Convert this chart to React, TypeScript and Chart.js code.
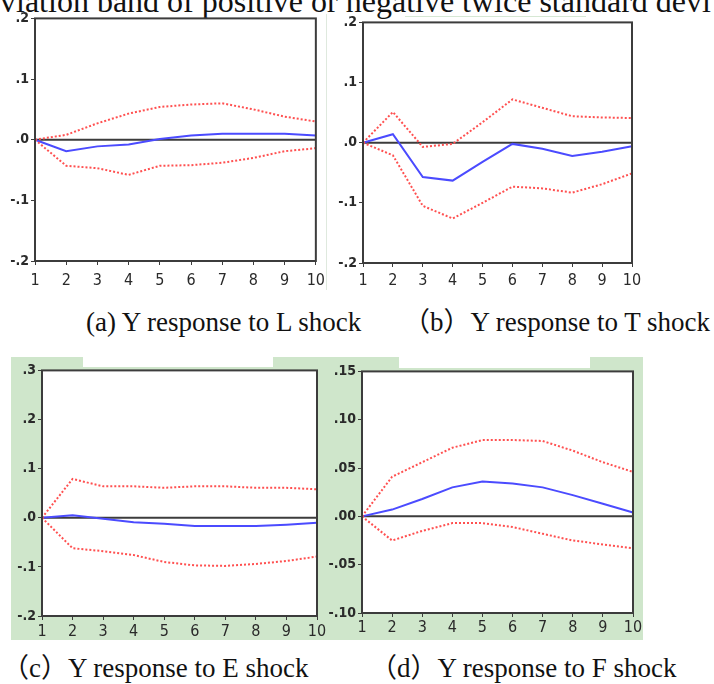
import React, { useEffect, useRef } from 'react';
import { Chart, registerables } from 'chart.js';

Chart.register(...registerables);

// ---------- data ----------
const periods = ['1', '2', '3', '4', '5', '6', '7', '8', '9', '10'];

// (a) Y response to L shock
const respL = [0, -0.019, -0.011, -0.008, 0.001, 0.007, 0.01, 0.01, 0.01, 0.007];
const upperL = [0, 0.008, 0.027, 0.043, 0.054, 0.058, 0.06, 0.05, 0.038, 0.03];
const lowerL = [0, -0.043, -0.047, -0.058, -0.043, -0.042, -0.038, -0.03, -0.019, -0.014];

// (b) Y response to T shock
const respT = [0, 0.014, -0.057, -0.063, -0.032, -0.002, -0.01, -0.022, -0.015, -0.006];
const upperT = [0, 0.051, -0.007, -0.002, 0.034, 0.072, 0.058, 0.044, 0.042, 0.041];
const lowerT = [0, -0.021, -0.105, -0.126, -0.1, -0.073, -0.076, -0.083, -0.069, -0.051];

// (c) Y response to E shock
const respE = [0, 0.005, -0.002, -0.009, -0.012, -0.017, -0.017, -0.017, -0.014, -0.01];
const upperE = [0, 0.079, 0.064, 0.064, 0.061, 0.064, 0.064, 0.061, 0.061, 0.058];
const lowerE = [0, -0.062, -0.068, -0.076, -0.09, -0.097, -0.098, -0.094, -0.088, -0.079];

// (d) Y response to F shock
const respF = [0, 0.007, 0.018, 0.03, 0.036, 0.034, 0.03, 0.022, 0.013, 0.004];
const upperF = [0, 0.041, 0.056, 0.071, 0.079, 0.079, 0.078, 0.068, 0.056, 0.046];
const lowerF = [0, -0.025, -0.015, -0.007, -0.007, -0.011, -0.018, -0.025, -0.029, -0.033];

// y tick values
const yTicksAB = [0.2, 0.1, 0, -0.1, -0.2];
const yTicksC = [0.3, 0.2, 0.1, 0, -0.1, -0.2];
const yTicksD = [0.15, 0.1, 0.05, 0, -0.05, -0.1];

const captionA = '(a) Y response to L shock';
const captionB = '（b）Y response to T shock';
const captionC = '（c）Y response to E shock';
const captionD = '（d）Y response to F shock';
const topText = 'viation band of positive or negative twice standard devi';

// ---------- styles ----------
const AXIS = '#3c3c3c';
const BLUE = '#4b4bff';
const RED = '#ff5050';
const GREEN = '#cfe6cb';
const TICK_FONT = '"Liberation Sans Narrow", "DejaVu Sans Condensed", "Liberation Sans", Arial, sans-serif';

function fmt(v: number, d: number): string {
  const s = Math.abs(v).toFixed(d).replace(/^0/, '');
  return v < -1e-9 ? '-' + s : s;
}

const framePlugin = {
  id: 'frame',
  beforeDraw(chart: any) {
    const { ctx, chartArea } = chart;
    const { left, top, right, bottom } = chartArea;
    ctx.save();
    ctx.fillStyle = '#ffffff';
    ctx.fillRect(left, top, right - left, bottom - top);
    ctx.restore();
  },
  beforeDatasetsDraw(chart: any) {
    const { ctx, chartArea } = chart;
    const y = chart.scales.y.getPixelForValue(0);
    ctx.save();
    ctx.strokeStyle = AXIS;
    ctx.lineWidth = 2;
    ctx.beginPath();
    ctx.moveTo(chartArea.left, y);
    ctx.lineTo(chartArea.right, y);
    ctx.stroke();
    ctx.restore();
  },
  afterDraw(chart: any) {
    const { ctx, chartArea } = chart;
    const { left, top, right, bottom } = chartArea;
    ctx.save();
    ctx.strokeStyle = AXIS;
    ctx.lineWidth = 2;
    ctx.strokeRect(left, top, right - left, bottom - top);
    ctx.restore();
  },
};

type PanelProps = {
  L: number; R: number; T: number; B: number;
  resp: number[]; upper: number[]; lower: number[];
  ticks: number[]; decimals: number; xPad: number;
};

const PADL = 34, PADT = 10, PADR = 15, PADB = 34;

function Panel({ L, R, T, B, resp, upper, lower, ticks, decimals, xPad }: PanelProps) {
  const ref = useRef<HTMLCanvasElement>(null);
  const w = R - L + PADL + PADR;
  const h = B - T + PADT + PADB;
  useEffect(() => {
    if (!ref.current) return;
    const dotted = (data: number[]) => ({
      data,
      borderColor: RED,
      borderWidth: 2,
      borderDash: [2, 2],
      pointRadius: 0,
      tension: 0,
      fill: false,
    });
    const chart = new Chart(ref.current, {
      type: 'line',
      data: {
        labels: periods,
        datasets: [
          dotted(upper),
          dotted(lower),
          { data: resp, borderColor: BLUE, borderWidth: 2, pointRadius: 0, tension: 0, fill: false },
        ],
      },
      options: {
        animation: false,
        responsive: false,
        devicePixelRatio: 1,
        layout: { padding: { top: PADT, right: PADR, left: 0, bottom: 0 } },
        plugins: { legend: { display: false }, tooltip: { enabled: false }, title: { display: false } },
        scales: {
          x: {
            type: 'category',
            offset: false,
            grid: { drawOnChartArea: false, drawTicks: true, tickLength: 4, color: AXIS, lineWidth: 1 },
            border: { display: false },
            ticks: { color: '#2a2a2a', font: { family: TICK_FONT, size: 16 }, padding: xPad, maxRotation: 0, autoSkip: false },
            afterFit: (s: any) => { s.height = PADB; },
          },
          y: {
            type: 'linear',
            min: ticks[ticks.length - 1],
            max: ticks[0],
            grid: { drawOnChartArea: false, drawTicks: true, tickLength: 4, color: AXIS, lineWidth: 1 },
            border: { display: false },
            afterBuildTicks: (s: any) => { s.ticks = ticks.map((v) => ({ value: v })); },
            ticks: {
              color: '#2a2a2a',
              font: { family: TICK_FONT, size: 14, weight: 'bold' },
              padding: 2,
              callback: (v: any) => fmt(Number(v), decimals),
            },
            afterFit: (s: any) => { s.width = PADL; },
          },
        },
      },
      plugins: [framePlugin],
    } as any);
    return () => chart.destroy();
  }, []);
  return (
    <canvas
      ref={ref}
      width={w}
      height={h}
      style={{ position: 'absolute', left: L - PADL, top: T - PADT, width: w, height: h }}
    />
  );
}

const captionStyle: React.CSSProperties = {
  position: 'absolute',
  fontFamily: '"Liberation Serif", "Times New Roman", "Noto Sans CJK SC", serif',
  fontSize: 27,
  lineHeight: '27px',
  whiteSpace: 'nowrap',
  color: '#111',
};

export default function App() {
  return (
    <div style={{ position: 'absolute', left: 0, top: 0, width: 714, height: 684, overflow: 'hidden', background: '#fff' }}>
      <div style={{ ...captionStyle, left: 0, top: -15, fontSize: 32, lineHeight: '32px' }}>{topText}</div>
      <div style={{ position: 'absolute', left: 405, top: 16, width: 181, height: 1, background: '#d6e8d4' }} />
      <div style={{ position: 'absolute', left: 326, top: 14, width: 1, height: 276, background: '#dfe9de' }} />

      {/* green background behind lower panels */}
      <div style={{ position: 'absolute', left: 11, top: 357, width: 632, height: 283, background: GREEN }} />
      <div style={{ position: 'absolute', left: 83, top: 357, width: 190, height: 10, background: '#fff' }} />
      <div style={{ position: 'absolute', left: 399, top: 357, width: 191, height: 11, background: '#fff' }} />

      <Panel L={35} R={316} T={18} B={261} resp={respL} upper={upperL} lower={lowerL} ticks={yTicksAB} decimals={1} xPad={6} />
      <Panel L={363} R={632} T={22} B={263} resp={respT} upper={upperT} lower={lowerT} ticks={yTicksAB} decimals={1} xPad={4} />
      <Panel L={42} R={317} T={370} B={616} resp={respE} upper={upperE} lower={lowerE} ticks={yTicksC} decimals={1} xPad={2} />
      <Panel L={362} R={633} T={371} B={613} resp={respF} upper={upperF} lower={lowerF} ticks={yTicksD} decimals={2} xPad={1} />

      <div style={{ ...captionStyle, left: 86, top: 309 }}>{captionA}</div>
      <div style={{ ...captionStyle, left: 403, top: 309 }}>{captionB}</div>
      <div style={{ ...captionStyle, left: 2, top: 655 }}>{captionC}</div>
      <div style={{ ...captionStyle, left: 370, top: 655 }}>{captionD}</div>
    </div>
  );
}
